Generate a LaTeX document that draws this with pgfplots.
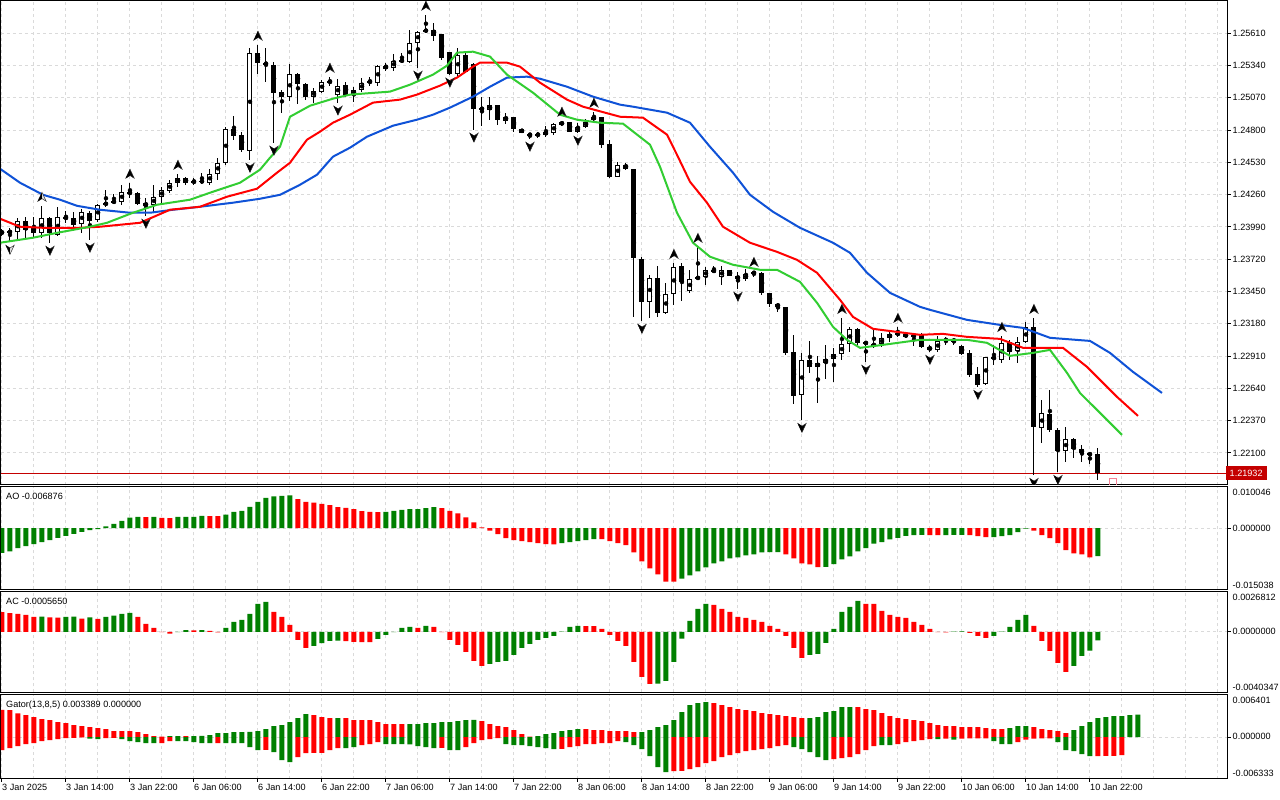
\documentclass[border=0pt]{standalone}
\usepackage{fontspec}
\setmainfont{Liberation Sans}
\usepackage{pgfplots}
\pgfplotsset{compat=1.18}
\usepackage{pgfplotstable}
\definecolor{mtgreen}{RGB}{0,128,0}
\definecolor{mtred}{RGB}{255,0,0}
\definecolor{jaw}{RGB}{15,82,215}
\definecolor{teeth}{RGB}{255,0,0}
\definecolor{lips}{RGB}{50,205,50}
\definecolor{gridc}{RGB}{218,218,218}
\definecolor{pbox}{RGB}{196,0,0}
\definecolor{pinkm}{RGB}{245,130,150}
\newcommand\lab{\fontsize{9.1pt}{10pt}\selectfont}
\pgfdeclareplotmark{fup}{%
  \pgfpathmoveto{\pgfqpoint{0pt}{4.5pt}}%
  \pgfpathlineto{\pgfqpoint{4.2pt}{-4.5pt}}%
  \pgfpathlineto{\pgfqpoint{0pt}{-1.8pt}}%
  \pgfpathlineto{\pgfqpoint{-4.2pt}{-4.5pt}}%
  \pgfpathclose\pgfusepathqfillstroke
  \pgfpathmoveto{\pgfqpoint{0pt}{4.5pt}}%
  \pgfpathlineto{\pgfqpoint{0pt}{-1.8pt}}%
  \pgfpathlineto{\pgfqpoint{-4.2pt}{-4.5pt}}%
  \pgfpathclose\pgfsetfillcolor{black}\pgfusepathqfill}
\pgfdeclareplotmark{fdn}{%
  \pgfpathmoveto{\pgfqpoint{0pt}{-4.5pt}}%
  \pgfpathlineto{\pgfqpoint{4.2pt}{4.5pt}}%
  \pgfpathlineto{\pgfqpoint{0pt}{1.8pt}}%
  \pgfpathlineto{\pgfqpoint{-4.2pt}{4.5pt}}%
  \pgfpathclose\pgfusepathqfillstroke
  \pgfpathmoveto{\pgfqpoint{0pt}{-4.5pt}}%
  \pgfpathlineto{\pgfqpoint{0pt}{1.8pt}}%
  \pgfpathlineto{\pgfqpoint{-4.2pt}{4.5pt}}%
  \pgfpathclose\pgfsetfillcolor{black}\pgfusepathqfill}
\pgfplotsset{
  mtbase/.style={
    scale only axis, anchor=south west, width=1227pt,
    xmin=-0.125, xmax=153.25,
    axis line style={black, line width=1pt},
    xtick={0,8,...,136}, minor xtick={4,8,...,152},
    xmajorgrids=true, xminorgrids=true, ymajorgrids=true,
    major grid style={gridc, dash pattern=on 3pt off 3pt, line width=1pt},
    minor grid style={gridc, dash pattern=on 3pt off 3pt, line width=1pt},
    xminorticks=false,
    tick align=outside, major tick length=3pt, minor tick length=0pt,
    tick style={black, line width=1pt},
    ytick pos=right, yticklabel pos=right,
    xtick pos=left, xticklabel pos=left,
    ticklabel style={font=\lab},
    yticklabel style={anchor=west, inner sep=0pt, xshift=1.5pt,
      /pgf/number format/fixed, /pgf/number format/fixed zerofill,
      /pgf/number format/precision=5, /pgf/number format/assume math mode=true},
    scaled y ticks=false,
    clip marker paths=true,
  },
  hg/.style={ybar, bar width=5pt, bar shift=0pt, fill=mtgreen, draw=none, forget plot},
  hr/.style={ybar, bar width=5pt, bar shift=0pt, fill=mtred, draw=none, forget plot},
}
\pgfplotstableread{
i o h l c
0 1.23941 1.23975 1.23916 1.23950
1 1.23941 1.23983 1.23866 1.23958
2 1.23950 1.24067 1.23874 1.24042
3 1.24042 1.24075 1.23883 1.23967
4 1.23992 1.24075 1.23908 1.23941
5 1.23941 1.24167 1.23900 1.24067
6 1.24067 1.24075 1.23858 1.23941
7 1.23925 1.24159 1.23916 1.24075
8 1.24075 1.24126 1.24025 1.24059
9 1.24067 1.24117 1.23967 1.24008
10 1.24017 1.24142 1.23941 1.24117
11 1.24109 1.24126 1.23883 1.24042
12 1.24050 1.24184 1.24033 1.24176
13 1.24176 1.24301 1.24159 1.24193
14 1.24193 1.24268 1.24184 1.24209
15 1.24201 1.24343 1.24176 1.24285
16 1.24276 1.24360 1.24234 1.24276
17 1.24276 1.24285 1.24176 1.24184
18 1.24193 1.24234 1.24084 1.24167
19 1.24176 1.24343 1.24109 1.24243
20 1.24243 1.24326 1.24193 1.24301
21 1.24293 1.24385 1.24276 1.24360
22 1.24360 1.24435 1.24326 1.24402
23 1.24402 1.24410 1.24343 1.24360
24 1.24360 1.24402 1.24343 1.24377
25 1.24377 1.24444 1.24352 1.24368
26 1.24360 1.24477 1.24343 1.24435
27 1.24435 1.24569 1.24385 1.24527
28 1.24527 1.24829 1.24511 1.24812
29 1.24812 1.24921 1.24720 1.24753
30 1.24762 1.24787 1.24619 1.24636
31 1.24628 1.25490 1.24552 1.25448
32 1.25448 1.25515 1.25272 1.25364
33 1.25364 1.25490 1.25205 1.25348
34 1.25348 1.25373 1.24695 1.25113
35 1.25122 1.25138 1.24946 1.25080
36 1.25080 1.25356 1.25046 1.25272
37 1.25272 1.25281 1.25021 1.25189
38 1.25189 1.25197 1.25055 1.25080
39 1.25080 1.25155 1.25030 1.25130
40 1.25122 1.25222 1.25113 1.25205
41 1.25205 1.25247 1.25172 1.25205
42 1.25097 1.25230 1.25030 1.25172
43 1.25180 1.25205 1.25080 1.25097
44 1.25097 1.25163 1.25038 1.25138
45 1.25138 1.25239 1.25122 1.25197
46 1.25205 1.25247 1.25172 1.25205
47 1.25197 1.25348 1.25172 1.25339
48 1.25339 1.25364 1.25297 1.25314
49 1.25322 1.25440 1.25297 1.25381
50 1.25381 1.25448 1.25364 1.25381
51 1.25373 1.25641 1.25364 1.25532
52 1.25532 1.25632 1.25322 1.25624
53 1.25624 1.25766 1.25615 1.25641
54 1.25641 1.25699 1.25548 1.25590
55 1.25607 1.25607 1.25389 1.25406
56 1.25456 1.25456 1.25264 1.25272
57 1.25272 1.25490 1.25256 1.25431
58 1.25431 1.25448 1.25281 1.25289
59 1.25356 1.25364 1.24804 1.24979
60 1.24979 1.25080 1.24837 1.24979
61 1.24971 1.25080 1.24887 1.25013
62 1.25013 1.25013 1.24845 1.24887
63 1.24879 1.24946 1.24854 1.24912
64 1.24912 1.24912 1.24787 1.24812
65 1.24812 1.24812 1.24778 1.24778
66 1.24762 1.24778 1.24728 1.24762
67 1.24762 1.24787 1.24737 1.24762
68 1.24762 1.24837 1.24745 1.24787
69 1.24778 1.24862 1.24762 1.24854
70 1.24845 1.24879 1.24837 1.24870
71 1.24870 1.24870 1.24787 1.24787
72 1.24787 1.24862 1.24778 1.24829
73 1.24829 1.24896 1.24820 1.24870
74 1.24887 1.24954 1.24870 1.24912
75 1.24912 1.24912 1.24653 1.24678
76 1.24686 1.24720 1.24402 1.24410
77 1.24410 1.24536 1.24410 1.24511
78 1.24511 1.24527 1.24469 1.24477
79 1.24477 1.24477 1.23238 1.23732
80 1.23724 1.23741 1.23205 1.23364
81 1.23364 1.23590 1.23230 1.23565
82 1.23565 1.23665 1.23238 1.23272
83 1.23272 1.23523 1.23263 1.23431
84 1.23431 1.23690 1.23339 1.23657
85 1.23665 1.23690 1.23372 1.23531
86 1.23456 1.23632 1.23439 1.23556
87 1.23565 1.23824 1.23548 1.23565
88 1.23573 1.23657 1.23506 1.23632
89 1.23623 1.23665 1.23607 1.23623
90 1.23573 1.23665 1.23506 1.23632
91 1.23632 1.23632 1.23581 1.23581
92 1.23581 1.23615 1.23473 1.23556
93 1.23556 1.23640 1.23540 1.23598
94 1.23607 1.23623 1.23573 1.23607
95 1.23607 1.23615 1.23423 1.23439
96 1.23439 1.23439 1.23322 1.23347
97 1.23347 1.23356 1.23280 1.23322
98 1.23322 1.23322 1.22920 1.22937
99 1.22945 1.23088 1.22510 1.22577
100 1.22586 1.22937 1.22376 1.22878
101 1.22878 1.23037 1.22770 1.22820
102 1.22820 1.22912 1.22519 1.22853
103 1.22853 1.23004 1.22719 1.22887
104 1.22887 1.22979 1.22694 1.22929
105 1.22929 1.23230 1.22878 1.23012
106 1.23012 1.23155 1.22945 1.23138
107 1.23138 1.23146 1.23004 1.23021
108 1.23029 1.23037 1.22862 1.23012
109 1.23004 1.23130 1.22979 1.23004
110 1.23012 1.23104 1.22987 1.23063
111 1.23063 1.23130 1.23029 1.23096
112 1.23096 1.23155 1.23071 1.23096
113 1.23096 1.23104 1.23063 1.23071
114 1.23071 1.23104 1.22996 1.23088
115 1.23096 1.23104 1.22979 1.22987
116 1.22987 1.23004 1.22945 1.22962
117 1.22962 1.23079 1.22945 1.23037
118 1.23046 1.23071 1.23004 1.23046
119 1.23029 1.23063 1.23004 1.23054
120 1.22996 1.23004 1.22920 1.22929
121 1.22937 1.22962 1.22736 1.22753
122 1.22761 1.22820 1.22652 1.22669
123 1.22678 1.22904 1.22669 1.22904
124 1.22904 1.23004 1.22837 1.22887
125 1.22878 1.23079 1.22853 1.23021
126 1.23029 1.23046 1.22878 1.22945
127 1.22954 1.23071 1.22853 1.23029
128 1.23029 1.23197 1.23021 1.23155
129 1.23155 1.23230 1.21916 1.22318
130 1.22309 1.22544 1.22184 1.22435
131 1.22426 1.22627 1.22276 1.22293
132 1.22293 1.22309 1.21941 1.22117
133 1.22117 1.22318 1.22025 1.22217
134 1.22217 1.22226 1.22058 1.22133
135 1.22133 1.22167 1.22025 1.22100
136 1.22100 1.22100 1.22008 1.22083
137 1.22092 1.22142 1.21874 1.21932
}\candles
\begin{document}
\begin{tikzpicture}[x=1pt,y=1pt]
\useasboundingbox (0,0) rectangle (1280,800);
\fill[white] (0,0) rectangle (1280,800);
% ---------------- main pane
\begin{axis}[mtbase, name=main, at={(1pt,315pt)}, height=484pt,
  ymin=1.21832, ymax=1.25880,
  ytick={1.22100,1.22370,1.22640,1.22910,1.23180,1.23450,1.23720,1.23990,1.24260,1.24530,1.24800,1.25070,1.25340,1.25610},
  xmajorticks=false, xticklabels={},
  extra y ticks={1.21932}, extra y tick labels={1.21932},
  extra y tick style={grid=none, major tick length=0pt,
    yticklabel style={fill=pbox, text=white, inner xsep=4pt, inner ysep=3.5pt, xshift=-4pt}},
]
\addplot[pbox, line width=1pt, forget plot] coordinates {(-1,1.21932) (160,1.21932)};
% wicks
\addplot[only marks, mark=none, forget plot, error bars/.cd, y dir=both, y explicit, error mark=none,
  error bar style={black, line width=1pt}]
  table[x=i, y expr={(\thisrow{h}+\thisrow{l})/2}, y error expr={(\thisrow{h}-\thisrow{l})/2}] {\candles};
% bodies
\addplot[only marks, mark=none, forget plot, error bars/.cd, y dir=both, y explicit, error mark=none,
  error bar style={black, line width=5pt}]
  table[x=i, y expr={(\thisrow{o}+\thisrow{c})/2}, y error expr={max(abs(\thisrow{c}-\thisrow{o})/2,0.00005)}] {\candles};
\addplot[only marks, mark=none, forget plot, error bars/.cd, y dir=both, y explicit, error mark=none,
  error bar style={white, line width=3pt}]
  table[x=i, y expr={(\thisrow{o}+\thisrow{c})/2}, y error expr={max((\thisrow{c}-\thisrow{o})/2-0.0000837,0)}] {\candles};
% alligator
\addplot[jaw, line width=2pt] coordinates {(-0.25,1.24477) (2.25,1.24360) (5.125,1.24259) (7.25,1.24218) (9.375,1.24167) (12.25,1.24134) (16,1.24109) (18.5,1.24109) (21.375,1.24134) (24.75,1.24159) (28.875,1.24193) (32.25,1.24226) (34.75,1.24259) (37.25,1.24343) (39.375,1.24427) (41.375,1.24578) (43.5,1.24653) (45.625,1.24745) (48.875,1.24837) (51.875,1.24887) (53.875,1.24929) (56,1.24988) (58.875,1.25080) (61,1.25163) (63.125,1.25239) (65.625,1.25247) (67.25,1.25230) (70.625,1.25163) (73.875,1.25080) (77.25,1.25013) (78.875,1.24996) (83.125,1.24946) (86,1.24862) (88.5,1.24661) (91.375,1.24444) (93.5,1.24259) (96.375,1.24117) (99.75,1.23983) (103.875,1.23858) (106,1.23774) (108.125,1.23607) (111,1.23439) (114.75,1.23322) (116,1.23297) (120.625,1.23213) (124.75,1.23171) (127.625,1.23146) (131,1.23063) (136,1.23037) (138.5,1.22937) (141.375,1.22778) (145,1.22602)};
\addplot[teeth, line width=2pt] coordinates {(-0.25,1.24059) (2.25,1.23992) (5.125,1.23983) (9.75,1.23983) (12.25,1.23992) (17.25,1.24025) (21,1.24134) (24.75,1.24159) (28.125,1.24243) (31.875,1.24310) (34.375,1.24444) (36,1.24527) (38.125,1.24720) (39.75,1.24787) (41.375,1.24862) (43.5,1.24929) (46.375,1.25030) (49.75,1.25055) (51.875,1.25097) (54.75,1.25172) (56.875,1.25239) (58.875,1.25331) (59.75,1.25364) (63.125,1.25364) (64.75,1.25331) (67.25,1.25197) (70.625,1.25055) (72.625,1.24996) (77.25,1.24912) (80.125,1.24904) (83.125,1.24762) (84.375,1.24594) (86,1.24368) (88.125,1.24193) (90.125,1.23992) (93.5,1.23858) (96.875,1.23782) (99.375,1.23715) (101.875,1.23607) (104.75,1.23381) (106.375,1.23238) (108.875,1.23138) (114.75,1.23088) (117.625,1.23096) (120.625,1.23071) (124.75,1.23054) (127.625,1.22979) (132.625,1.22979) (135.625,1.22820) (137.25,1.22711) (139.375,1.22569) (142,1.22410)};
\addplot[lips, line width=2pt] coordinates {(-0.25,1.23858) (3.875,1.23900) (6.875,1.23941) (11,1.23992) (13.125,1.24025) (16.375,1.24109) (19.375,1.24176) (23.5,1.24218) (26.375,1.24285) (29.75,1.24360) (32.25,1.24469) (33.5,1.24569) (34.75,1.24661) (36,1.24912) (38.5,1.25004) (41.375,1.25063) (43.5,1.25097) (48.5,1.25122) (51,1.25180) (53.875,1.25264) (55.625,1.25339) (56.875,1.25448) (58.875,1.25456) (61,1.25415) (63.125,1.25264) (66.375,1.25113) (69.75,1.24929) (71.875,1.24887) (74.75,1.24862) (77.625,1.24854) (81,1.24678) (82.25,1.24494) (84.375,1.24109) (86.375,1.23858) (88.5,1.23741) (91.375,1.23674) (94.75,1.23632) (96.875,1.23632) (99.75,1.23531) (101.875,1.23356) (103.875,1.23155) (105.625,1.23046) (107.25,1.22979) (110.125,1.23004) (114.75,1.23046) (120.625,1.23046) (123.125,1.23021) (126,1.22912) (128.875,1.22937) (131,1.22962) (133.125,1.22770) (134.75,1.22602) (137.25,1.22435) (140,1.22251)};
% fractals
\addplot[only marks, mark=fup, mark options={fill=gray!25, draw=black!80, line width=0.5pt, yshift=9pt}] coordinates {(5,1.24167) (16,1.24360) (22,1.24435) (32,1.25515) (41,1.25247) (53,1.25766) (70,1.24879) (74,1.24954) (84,1.23690) (87,1.23824) (94,1.23623) (105,1.23230) (112,1.23155) (125,1.23079) (129,1.23230)};
\addplot[only marks, mark=fdn, mark options={fill=gray!25, draw=black!80, line width=0.5pt, yshift=-8pt}] coordinates {(1,1.23866) (6,1.23858) (11,1.23883) (18,1.24084) (31,1.24552) (34,1.24695) (42,1.25030) (52,1.25322) (56,1.25264) (59,1.24804) (66,1.24728) (72,1.24778) (80,1.23205) (92,1.23473) (100,1.22376) (108,1.22862) (116,1.22945) (122,1.22652) (129,1.21916) (132,1.21941)};
\addplot[only marks, mark=square, mark size=3.5pt, mark options={draw=pinkm, line width=1pt, fill=white}] coordinates {(138.9,1.21860)};
\end{axis}
% ---------------- AO
\begin{axis}[mtbase, name=ao, at={(1pt,210.5pt)}, height=102.5pt,
  ymin=-0.015038, ymax=0.010046, ytick={0}, yticklabels={}, xmajorticks=false, xticklabels={}]
\coordinate (aoz) at (axis cs:153.25,0);
\addplot[hg] coordinates {(0,-0.00609)(1,-0.00568)(2,-0.00494)(3,-0.00444)(4,-0.00395)(5,-0.00346)(6,-0.00296)(7,-0.00239)(8,-0.00189)(9,-0.00140)(10,-0.00091)(11,-0.00049)(12,-0.00025)(13,0.00041)(14,0.00099)(15,0.00173)(16,0.00255)(17,0.00275)(19,0.00272)(22,0.00272)(23,0.00274)(24,0.00276)(25,0.00296)(28,0.00329)(29,0.00395)(30,0.00420)(31,0.00518)(32,0.00642)(33,0.00741)(34,0.00774)(35,0.00790)(36,0.00798)(48,0.00395)(49,0.00420)(50,0.00444)(51,0.00461)(52,0.00463)(53,0.00486)(54,0.00510)(70,-0.00370)(71,-0.00346)(72,-0.00321)(73,-0.00296)(74,-0.00272)(85,-0.01235)(86,-0.01160)(87,-0.01062)(88,-0.00963)(89,-0.00864)(90,-0.00815)(91,-0.00741)(92,-0.00716)(93,-0.00667)(94,-0.00642)(95,-0.00593)(96,-0.00590)(97,-0.00588)(103,-0.00953)(104,-0.00881)(105,-0.00765)(106,-0.00691)(107,-0.00568)(108,-0.00494)(109,-0.00379)(110,-0.00346)(111,-0.00280)(112,-0.00239)(113,-0.00189)(114,-0.00173)(115,-0.00170)(118,-0.00172)(119,-0.00170)(120,-0.00168)(124,-0.00220)(125,-0.00198)(126,-0.00173)(127,-0.00099)(128,-0.00016)(137,-0.006876)};
\addplot[hr] coordinates {(18,0.00270)(20,0.00247)(21,0.00245)(26,0.00294)(27,0.00292)(37,0.00708)(38,0.00642)(39,0.00625)(40,0.00593)(41,0.00560)(42,0.00510)(43,0.00494)(44,0.00461)(45,0.00412)(46,0.00395)(47,0.00387)(55,0.00486)(56,0.00420)(57,0.00362)(58,0.00263)(59,0.00140)(60,0.00016)(61,-0.00066)(62,-0.00148)(63,-0.00247)(64,-0.00296)(65,-0.00321)(66,-0.00346)(67,-0.00370)(68,-0.00395)(69,-0.00397)(75,-0.00274)(76,-0.00321)(77,-0.00370)(78,-0.00420)(79,-0.00593)(80,-0.00815)(81,-0.00988)(82,-0.01136)(83,-0.01309)(84,-0.01312)(98,-0.00642)(99,-0.00741)(100,-0.00864)(101,-0.00889)(102,-0.00955)(116,-0.00172)(117,-0.00175)(121,-0.00172)(122,-0.00198)(123,-0.00222)(129,-0.00066)(130,-0.00173)(131,-0.00247)(132,-0.00370)(133,-0.00543)(134,-0.00617)(135,-0.00642)(136,-0.00716)};
\end{axis}
% ---------------- AC
\begin{axis}[mtbase, name=ac, at={(1pt,107.7pt)}, height=100.6pt,
  ymin=-0.0040347, ymax=0.0026812, ytick={0}, yticklabels={}, xmajorticks=false, xticklabels={}]
\coordinate (acz) at (axis cs:153.25,0);
\addplot[hg] coordinates {(5,0.00101)(8,0.00100)(9,0.00101)(11,0.00096)(13,0.00100)(14,0.00109)(15,0.00120)(16,0.00127)(22,-0.00002)(23,0.00011)(25,0.00011)(28,0.00027)(29,0.00067)(30,0.00080)(31,0.00120)(32,0.00187)(33,0.00200)(39,-0.00093)(40,-0.00076)(41,-0.00060)(42,-0.00059)(47,-0.00047)(48,-0.00020)(49,-0.00002)(50,0.00027)(51,0.00033)(53,0.00040)(61,-0.00214)(62,-0.00200)(63,-0.00193)(64,-0.00154)(65,-0.00107)(66,-0.00080)(67,-0.00053)(68,-0.00040)(69,-0.00027)(70,0.00001)(71,0.00033)(72,0.00040)(82,-0.00345)(83,-0.00327)(84,-0.00200)(85,-0.00045)(86,0.00073)(87,0.00154)(88,0.00187)(101,-0.00154)(102,-0.00147)(103,-0.00073)(104,0.00020)(105,0.00134)(106,0.00167)(107,0.00207)(119,0.00002)(120,0.00004)(124,-0.00026)(125,0.00001)(126,0.00033)(127,0.00080)(128,0.00113)(134,-0.00227)(135,-0.00160)(136,-0.00126)(137,-0.000565)};
\addplot[hr] coordinates {(0,0.00131)(1,0.00125)(2,0.00120)(3,0.00113)(4,0.00100)(6,0.00096)(7,0.00095)(10,0.00089)(12,0.00087)(17,0.00100)(18,0.00053)(19,0.00027)(20,-0.00002)(21,-0.00011)(24,0.00010)(26,0.00007)(27,-0.00004)(34,0.00134)(35,0.00100)(36,0.00047)(37,-0.00053)(38,-0.00107)(43,-0.00062)(44,-0.00067)(45,-0.00068)(46,-0.00069)(52,0.00027)(54,0.00033)(55,-0.00002)(56,-0.00053)(57,-0.00087)(58,-0.00134)(59,-0.00194)(60,-0.00227)(73,0.00039)(74,0.00038)(75,0.00020)(76,-0.00020)(77,-0.00060)(78,-0.00093)(79,-0.00200)(80,-0.00300)(81,-0.00347)(89,0.00180)(90,0.00153)(91,0.00134)(92,0.00100)(93,0.00093)(94,0.00080)(95,0.00067)(96,0.00040)(97,0.00020)(98,-0.00027)(99,-0.00107)(100,-0.00174)(108,0.00187)(109,0.00186)(110,0.00140)(111,0.00113)(112,0.00100)(113,0.00093)(114,0.00067)(115,0.00047)(116,0.00020)(117,-0.00002)(118,-0.00003)(121,-0.00007)(122,-0.00027)(123,-0.00040)(129,0.00040)(130,-0.00060)(131,-0.00127)(132,-0.00207)(133,-0.00267)};
\end{axis}
% ---------------- Gator
\begin{axis}[mtbase, name=gt, at={(1pt,21pt)}, height=84.3pt,
  ymin=-0.006333, ymax=0.006401, ytick={0}, yticklabels={},
  xticklabels={3 Jan 2025,3 Jan 14:00,3 Jan 22:00,6 Jan 06:00,6 Jan 14:00,6 Jan 22:00,7 Jan 06:00,7 Jan 14:00,7 Jan 22:00,8 Jan 06:00,8 Jan 14:00,8 Jan 22:00,9 Jan 06:00,9 Jan 14:00,9 Jan 22:00,10 Jan 06:00,10 Jan 14:00,10 Jan 22:00},
  xticklabel style={anchor=north west, inner sep=0pt, yshift=-2pt}]
\coordinate (gtz) at (axis cs:153.25,0);
\addplot[hg] coordinates {(21,0.00015)(22,0.00016)(24,0.00016)(25,0.00017)(26,0.00030)(27,0.00060)(28,0.00061)(29,0.00075)(30,0.00076)(31,0.00077)(32,0.00091)(33,0.00121)(34,0.00166)(35,0.00181)(36,0.00226)(37,0.00287)(38,0.00347)(42,0.00288)(51,0.00195)(52,0.00196)(53,0.00211)(54,0.00212)(55,0.00226)(56,0.00227)(57,0.00241)(58,0.00257)(59,0.00258)(67,0.00015)(68,0.00045)(69,0.00060)(70,0.00091)(71,0.00106)(72,0.00121)(80,0.00076)(81,0.00106)(82,0.00151)(83,0.00181)(84,0.00257)(85,0.00377)(86,0.00483)(87,0.00513)(88,0.00528)(101,0.00288)(102,0.00302)(103,0.00377)(104,0.00392)(105,0.00453)(106,0.00454)(126,0.00136)(127,0.00166)(128,0.00167)(134,0.00106)(135,0.00166)(136,0.00226)(137,0.00287)(138,0.00302)(139,0.00317)(140,0.00318)(141,0.00332)(142,0.003389)};
\addplot[hr] coordinates {(0,0.00412)(1,0.00407)(2,0.00357)(3,0.00332)(4,0.00302)(5,0.00272)(6,0.00257)(7,0.00226)(8,0.00211)(9,0.00181)(10,0.00166)(11,0.00151)(12,0.00136)(13,0.00121)(14,0.00091)(15,0.00090)(16,0.00089)(17,0.00075)(18,0.00045)(19,0.00015)(20,0.00005)(23,0.00015)(39,0.00332)(40,0.00302)(41,0.00287)(43,0.00286)(44,0.00257)(45,0.00256)(46,0.00255)(47,0.00226)(48,0.00196)(49,0.00195)(50,0.00194)(60,0.00241)(61,0.00196)(62,0.00166)(63,0.00151)(64,0.00106)(65,0.00045)(66,0.00005)(73,0.00120)(74,0.00106)(75,0.00105)(76,0.00091)(77,0.00090)(78,0.00089)(79,0.00075)(89,0.00513)(90,0.00483)(91,0.00453)(92,0.00423)(93,0.00407)(94,0.00392)(95,0.00362)(96,0.00347)(97,0.00332)(98,0.00317)(99,0.00302)(100,0.00287)(107,0.00452)(108,0.00423)(109,0.00407)(110,0.00362)(111,0.00317)(112,0.00287)(113,0.00272)(114,0.00257)(115,0.00241)(116,0.00211)(117,0.00181)(118,0.00166)(119,0.00165)(120,0.00151)(121,0.00150)(122,0.00149)(123,0.00136)(124,0.00121)(125,0.00120)(129,0.00151)(130,0.00121)(131,0.00106)(132,0.00091)(133,0.00060)};
\addplot[hg] coordinates {(11,-0.00025)(12,-0.00030)(15,-0.00030)(16,-0.00060)(17,-0.00075)(18,-0.00091)(19,-0.00092)(22,-0.00061)(23,-0.00062)(24,-0.00075)(25,-0.00091)(26,-0.00092)(28,-0.00091)(29,-0.00092)(30,-0.00093)(31,-0.00151)(32,-0.00196)(34,-0.00226)(35,-0.00347)(36,-0.00377)(43,-0.00167)(44,-0.00151)(48,-0.00106)(49,-0.00107)(50,-0.00108)(51,-0.00109)(52,-0.00136)(53,-0.00151)(54,-0.00166)(56,-0.00196)(57,-0.00197)(63,-0.00106)(64,-0.00121)(65,-0.00122)(66,-0.00136)(67,-0.00151)(68,-0.00166)(69,-0.00181)(78,-0.00075)(79,-0.00121)(80,-0.00181)(81,-0.00287)(82,-0.00453)(83,-0.00528)(99,-0.00151)(100,-0.00181)(101,-0.00226)(102,-0.00302)(103,-0.00347)(110,-0.00122)(111,-0.00123)(117,-0.00031)(119,-0.00040)(124,-0.00060)(125,-0.00106)(126,-0.00107)(132,-0.00075)(133,-0.00196)(134,-0.00211)(135,-0.00257)(136,-0.00287)};
\addplot[hr] coordinates {(0,-0.00196)(1,-0.00166)(2,-0.00136)(3,-0.00106)(4,-0.00091)(5,-0.00060)(6,-0.00045)(7,-0.00030)(8,-0.00015)(9,-0.00014)(10,-0.00005)(13,-0.00015)(14,-0.00014)(20,-0.00090)(21,-0.00060)(27,-0.00090)(33,-0.00195)(37,-0.00302)(38,-0.00241)(39,-0.00240)(40,-0.00239)(41,-0.00196)(42,-0.00166)(45,-0.00121)(46,-0.00106)(47,-0.00075)(55,-0.00165)(58,-0.00151)(59,-0.00091)(60,-0.00045)(61,-0.00030)(62,-0.00015)(70,-0.00180)(71,-0.00151)(72,-0.00136)(73,-0.00106)(74,-0.00105)(75,-0.00091)(76,-0.00090)(77,-0.00060)(84,-0.00513)(85,-0.00512)(86,-0.00483)(87,-0.00453)(88,-0.00392)(89,-0.00362)(90,-0.00302)(91,-0.00272)(92,-0.00241)(93,-0.00211)(94,-0.00196)(95,-0.00181)(96,-0.00166)(97,-0.00136)(98,-0.00121)(104,-0.00332)(105,-0.00317)(106,-0.00302)(107,-0.00257)(108,-0.00196)(109,-0.00136)(112,-0.00106)(113,-0.00075)(114,-0.00060)(115,-0.00045)(116,-0.00030)(118,-0.00025)(120,-0.00025)(121,-0.00020)(122,-0.00019)(123,-0.00018)(127,-0.00075)(128,-0.00040)(129,-0.00025)(130,-0.00020)(131,-0.00019)(137,-0.00286)(138,-0.00285)(139,-0.00284)(140,-0.00272)};
\end{axis}
% ---------------- pane titles and scale labels
\begin{scope}[every node/.style={font=\lab, inner sep=0pt, anchor=base west}]
\node at ([xshift=5pt,yshift=-13pt]ao.north west) {AO -0.006876};
\node at ([xshift=5pt,yshift=-13.3pt]ac.north west) {AC -0.0005650};
\node at ([xshift=5pt,yshift=-12.6pt]gt.north west) {Gator(13,8,5) 0.003389 0.000000};
\node at ([xshift=4.5pt,yshift=-9pt]ao.north east) {0.010046};
\node at ([xshift=4.5pt,yshift=-3.2pt]aoz) {0.000000};
\node at ([xshift=4.5pt,yshift=1.3pt]ao.south east) {-0.015038};
\node at ([xshift=4.5pt,yshift=-8.6pt]ac.north east) {0.0026812};
\node at ([xshift=4.5pt,yshift=-3.1pt]acz) {0.0000000};
\node at ([xshift=4.5pt,yshift=2pt]ac.south east) {-0.0040347};
\node at ([xshift=4.5pt,yshift=-9.3pt]gt.north east) {0.006401};
\node at ([xshift=4.5pt,yshift=-2.5pt]gtz) {0.000000};
\node at ([xshift=4.5pt,yshift=2.7pt]gt.south east) {-0.006333};
\end{scope}
\end{tikzpicture}
\end{document}
